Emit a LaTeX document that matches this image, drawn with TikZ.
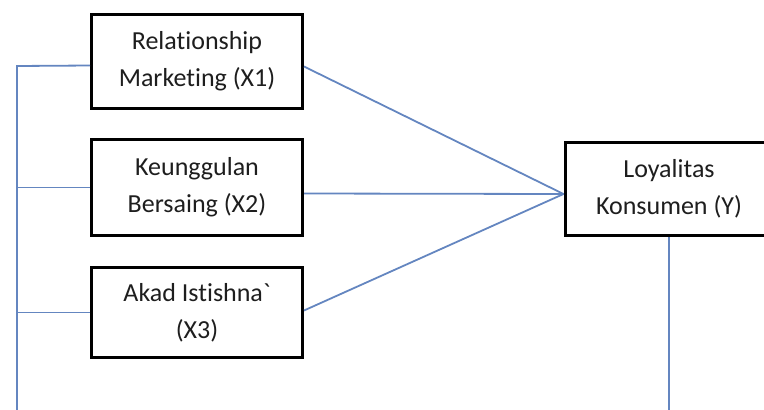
\documentclass[tikz,border=0pt]{standalone}
\usepackage{fontspec}
\setmainfont[Ligatures=NoCommon]{Carlito}
\definecolor{linkblue}{RGB}{100,134,192}
\definecolor{txt}{RGB}{30,30,30}
\begin{document}
\begin{tikzpicture}[x=1pt,y=-1pt,
  varbox/.style={draw=black,line width=3pt,fill=white,align=center,text=txt,
    font=\fontsize{26}{37}\selectfont,inner sep=0pt},
  conn/.style={draw=linkblue,line width=1.8pt}]
\useasboundingbox (0,0) rectangle (764,410);
\begin{scope}
\clip (0,0) rectangle (764,410);
\coordinate (spineTop) at (17,66);
\coordinate (spineBot) at (17,414);
\node[varbox,minimum width=211pt,minimum height=94pt] (X1) at (197,61.5) {Relationship\\Marketing (X1)};
\node[varbox,minimum width=211pt,minimum height=96pt] (X2) at (197,187.5) {Keunggulan\\Bersaing (X2)};
\node[varbox,minimum width=211pt,minimum height=90pt] (X3) at (197,312.5) {Akad Istishna\textasciigrave\\(X3)};
\node[varbox,minimum width=208pt,minimum height=93pt] (Y) at (669,189) {Loyalitas\\Konsumen (Y)};
\coordinate (hub) at ([yshift=-5pt]Y.west);
\draw[conn] ([yshift=-4pt]X1.west) -- (spineTop) -- (spineBot);
\draw[conn] (X2.west) -- (X2.west -| spineTop);
\draw[conn] (X3.west) -- (X3.west -| spineTop);
\draw[conn] ([yshift=-5pt]X1.east) -- (hub);
\draw[conn] ([yshift=-6pt]X2.east) -- (hub);
\draw[conn] ([yshift=2pt]X3.east) -- (hub);
\draw[conn] (Y.south) -- (Y.south |- spineBot);
\end{scope}
\end{tikzpicture}
\end{document}
